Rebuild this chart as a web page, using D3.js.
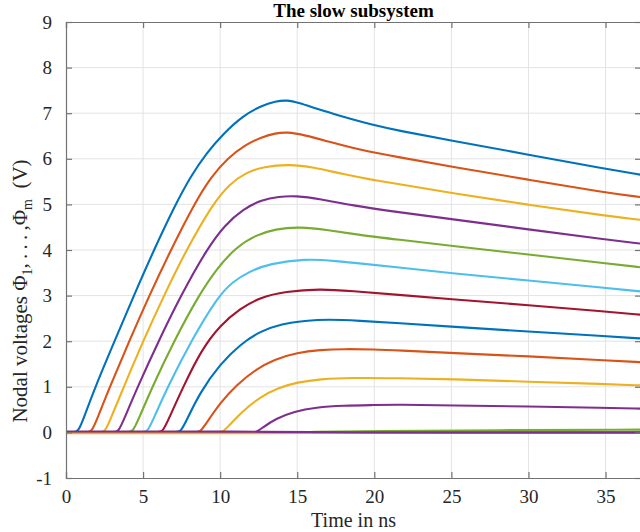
<!DOCTYPE html>
<html>
<head>
<meta charset="utf-8">
<script src="https://cdn.jsdelivr.net/npm/d3@7"></script>
<style>
  html, body { margin: 0; padding: 0; background: #fff; }
  svg { display: block; font-family: "Liberation Serif", "Times New Roman", serif; }
</style>
</head>
<body>
<div id="chart"></div>
<script>
// tick values
const xTicks = [0, 5, 10, 15, 20, 25, 30, 35]
const yTicks = [-1, 0, 1, 2, 3, 4, 5, 6, 7, 8, 9]

// MATLAB default colour order, repeated
const colors = ["#0072BD", "#D95319", "#EDB120", "#7E2F8E", "#77AC30", "#4DBEEE", "#A2142F"]

// nodal voltages [t (ns), V]
const phi1 = [[0,0],[0.4,0],[0.8,0],[1.2,0.36],[1.9,1.0],[3.15,2.0],[4.4,3.0],[5.7,4.0],[7.1,5.0],[8.1,5.62],[9.1,6.12],[10.2,6.55],[11.5,6.95],[12.7,7.17],[13.6,7.26],[14.3,7.29],[15.1,7.23],[16.3,7.09],[17.4,6.98],[18.4,6.88],[19.7,6.76],[21.5,6.62],[25,6.4],[30,6.09],[35,5.78],[37.3,5.65]]
const phi2 = [[0,0],[1.27,0],[1.67,0],[2.07,0.34],[2.85,1.0],[4.1,2.0],[5.4,3.0],[6.8,4.0],[8.3,5.0],[9.4,5.6],[10.5,6.02],[11.6,6.3],[12.7,6.48],[13.6,6.56],[14.3,6.59],[15.5,6.52],[17,6.38],[19,6.2],[21.5,6.04],[25,5.83],[30,5.54],[35,5.26],[37.3,5.16]]
const phi3 = [[0,0],[2.13,0],[2.53,0],[2.93,0.33],[3.75,1.0],[5.0,2.0],[6.35,3.0],[7.8,4.0],[9.5,5.0],[10.6,5.45],[11.7,5.7],[12.8,5.83],[14.5,5.88],[16,5.82],[18,5.66],[20,5.53],[21.5,5.45],[25,5.25],[30,4.99],[35,4.75],[37.3,4.66]]
const phi4 = [[0,0],[3.0,0],[3.4,0],[3.8,0.32],[4.65,1.0],[6.0,2.0],[7.45,3.0],[9.1,4.0],[10.3,4.55],[11.5,4.9],[12.7,5.1],[13.8,5.17],[14.9,5.19],[16.5,5.12],[18.5,4.98],[21.5,4.83],[25,4.68],[30,4.45],[35,4.23],[37.3,4.14]]
const phi5 = [[0,0],[3.93,0],[4.33,0],[4.73,0.31],[5.6,1.0],[7.0,2.0],[8.6,3.0],[9.8,3.6],[11,4.05],[12.3,4.33],[13.6,4.46],[15.1,4.51],[17,4.44],[19,4.33],[21.5,4.23],[25,4.09],[30,3.9],[35,3.71],[37.3,3.62]]
const phi6 = [[0,0],[4.88,0],[5.28,0],[5.68,0.3],[6.6,1.0],[8.1,2.0],[9.9,3.0],[10.8,3.3],[11.9,3.53],[13.2,3.7],[15.5,3.81],[17.5,3.76],[19.5,3.69],[21.5,3.62],[25,3.49],[30,3.33],[35,3.17],[37.3,3.09]]
const phi7 = [[0,0],[5.87,0],[6.27,0],[6.67,0.3],[7.6,1.0],[8.8,1.82],[10,2.35],[11.3,2.72],[12.6,2.96],[14.2,3.09],[16.5,3.15],[18.5,3.1],[21.5,3.02],[25,2.92],[30,2.79],[35,2.65],[37.3,2.58]]
const phi8 = [[0,0],[7.04,0],[7.44,0],[7.84,0.28],[8.7,0.88],[10,1.5],[11.3,1.93],[12.6,2.22],[14,2.38],[15.5,2.45],[17,2.48],[19,2.45],[21.5,2.4],[25,2.32],[30,2.21],[35,2.11],[37.3,2.06]]
const phi9 = [[0,0],[8.3,0],[8.7,0],[9.1,0.2],[10,0.65],[11.1,1.05],[12.3,1.38],[13.5,1.6],[15,1.75],[16.5,1.81],[18,1.83],[20,1.82],[21.5,1.8],[25,1.74],[30,1.67],[35,1.58],[37.3,1.54]]
const phi10 = [[0,0],[9.77,0],[10.17,0],[10.57,0.15],[11.4,0.45],[12.6,0.78],[13.8,0.98],[15,1.1],[16.5,1.17],[18.5,1.2],[21.5,1.19],[25,1.17],[30,1.11],[35,1.06],[37.3,1.03]]
const phi11 = [[0,0],[11.93,0],[12.33,0],[12.73,0.1],[13.6,0.3],[14.8,0.46],[16.2,0.55],[18,0.59],[20,0.6],[21.5,0.61],[25,0.59],[30,0.57],[35,0.54],[37.3,0.52]]
const phi12 = [[0,0],[13,0],[16,0.01],[20,0.03],[28,0.05],[37.3,0.06]]
const phi13 = [[0,0],[37.3,0]]
const phi14 = [[0,0],[37.3,0]]
const phi15 = [[0,0],[37.3,0]]
const phi16 = [[0,0],[37.3,0]]
const phi17 = [[0,-0.02],[15,-0.02],[17,0],[37.3,0]]
const phi18 = [[0,0.02],[12.3,0.02],[15.5,0],[37.3,0]]

const series = [phi1, phi2, phi3, phi4, phi5, phi6, phi7, phi8, phi9, phi10, phi11, phi12, phi13, phi14, phi15, phi16, phi17, phi18]

const W = 640, H = 532
const MARGIN = {left: 66, top: 22, right: 641, bottom: 478}
const SERIF = "'Liberation Serif', 'Times New Roman', Times, serif"

const svg = d3.select("#chart").append("svg")
  .attr("width", W).attr("height", H)

const x = d3.scaleLinear().domain([0, 37.3]).range([MARGIN.left, MARGIN.right])
const y = d3.scaleLinear().domain([-1, 9]).range([MARGIN.bottom, MARGIN.top])

// grid
svg.append("g").selectAll("line").data(xTicks.slice(1)).join("line")
  .attr("x1", d => x(d)).attr("x2", d => x(d))
  .attr("y1", MARGIN.top).attr("y2", MARGIN.bottom)
  .attr("stroke", "#e3e3e3").attr("stroke-width", 1)
svg.append("g").selectAll("line").data(yTicks.slice(1, -1)).join("line")
  .attr("x1", MARGIN.left).attr("x2", MARGIN.right)
  .attr("y1", d => y(d)).attr("y2", d => y(d))
  .attr("stroke", "#e3e3e3").attr("stroke-width", 1)

// lines (b-spline through the read points, no overshoot below zero)
svg.append("clipPath").attr("id", "clip").append("rect")
  .attr("x", MARGIN.left).attr("y", MARGIN.top)
  .attr("width", MARGIN.right - MARGIN.left).attr("height", MARGIN.bottom - MARGIN.top)

const line = d3.line().x(d => x(d[0])).y(d => y(d[1])).curve(d3.curveBasis)

svg.append("g").attr("clip-path", "url(#clip)")
  .selectAll("path").data(series).join("path")
  .attr("d", line)
  .attr("fill", "none")
  .attr("stroke", (d, i) => colors[i % colors.length])
  .attr("stroke-width", 2.1)
  .attr("stroke-linejoin", "round")

// axes, ticks pointing inwards like matlab
const tickLen = 6
const axisColor = "#737373"

const xAxis = svg.append("g").attr("transform", `translate(0,${MARGIN.bottom})`)
  .call(d3.axisBottom(x).tickValues(xTicks).tickSize(-tickLen).tickPadding(12).tickFormat(d => String(d)))
const xAxisTop = svg.append("g").attr("transform", `translate(0,${MARGIN.top})`)
  .call(d3.axisTop(x).tickValues(xTicks).tickSize(-tickLen).tickFormat(""))
const yAxis = svg.append("g").attr("transform", `translate(${MARGIN.left},0)`)
  .call(d3.axisLeft(y).tickValues(yTicks).tickSize(-tickLen).tickPadding(14).tickFormat(d => String(d)))
const yAxisRight = svg.append("g").attr("transform", `translate(${MARGIN.right},0)`)
  .call(d3.axisRight(y).tickValues(yTicks).tickSize(-tickLen).tickFormat(""))

for (const g of [xAxis, xAxisTop, yAxis, yAxisRight]) {
  g.attr("font-family", null).attr("font-size", null)
  g.select(".domain").attr("stroke", axisColor).attr("stroke-width", 1.2)
  g.selectAll(".tick line").attr("stroke", axisColor).attr("stroke-width", 1.2)
  g.selectAll(".tick text")
    .attr("fill", "#262626")
    .style("font-family", SERIF)
    .style("font-size", "19px")
}

// titles
svg.append("text")
  .attr("x", (MARGIN.left + MARGIN.right) / 2).attr("y", 17)
  .attr("text-anchor", "middle")
  .style("font-family", SERIF)
  .attr("font-weight", "bold").attr("font-size", 19)
  .attr("fill", "#000")
  .text("The slow subsystem")

svg.append("text")
  .attr("x", (MARGIN.left + MARGIN.right) / 2).attr("y", 527)
  .attr("text-anchor", "middle")
  .style("font-family", SERIF)
  .attr("font-size", 20)
  .attr("fill", "#262626")
  .text("Time in ns")

const yl = svg.append("text")
  .attr("transform", "translate(27,291) rotate(-90)")
  .attr("text-anchor", "middle")
  .style("font-family", SERIF)
  .attr("font-size", 21)
  .attr("fill", "#262626")
yl.append("tspan").text("Nodal voltages \u03A6")
yl.append("tspan").attr("dy", 5).attr("font-size", 14).text("1")
yl.append("tspan").attr("dy", -5).text(",\u2009.\u2009.\u2009.\u2009,\u03A6")
yl.append("tspan").attr("dy", 5).attr("font-size", 14).text("m")
yl.append("tspan").attr("dy", -5).text("\u2002(V)")
</script>
</body>
</html>
